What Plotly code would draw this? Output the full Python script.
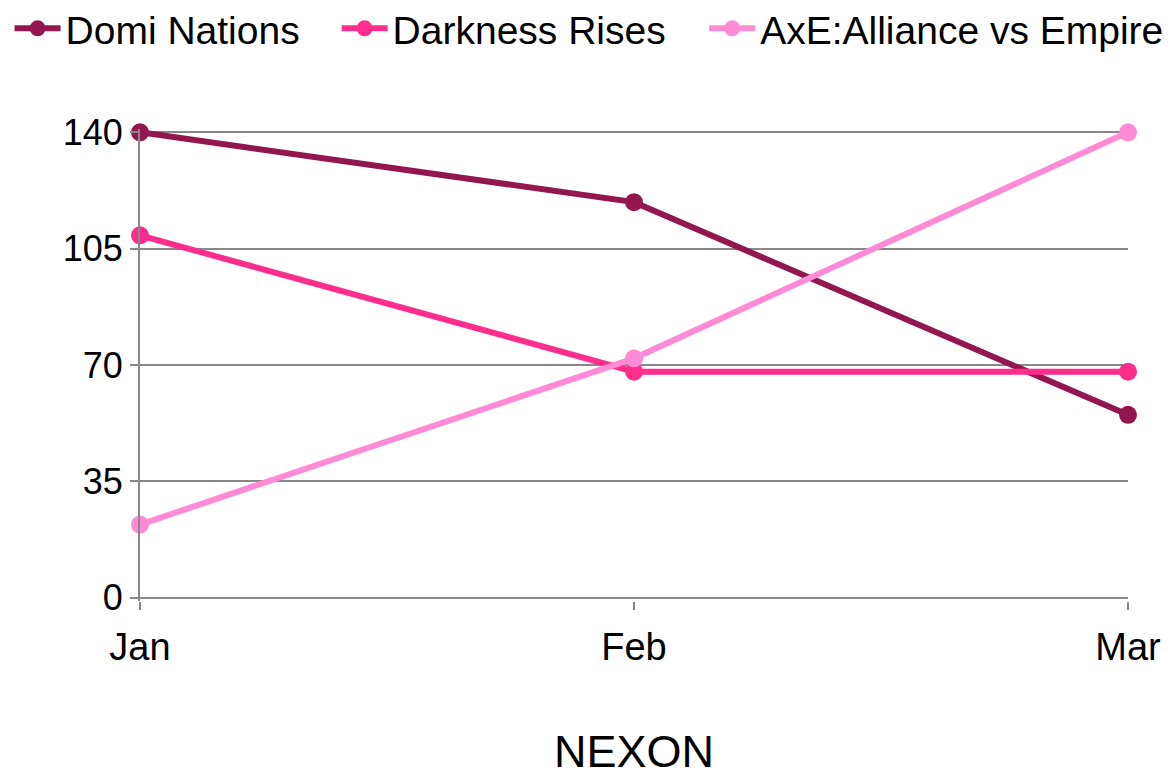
import plotly.graph_objects as go

months = ["Jan", "Feb", "Mar"]
domi_nations = [140, 119, 55]
darkness_rises = [109, 68, 68]
axe_alliance = [22, 72, 140]
y_ticks = [0, 35, 70, 105, 140]

series = [
    ("Domi Nations", domi_nations, "#93174F", "legend", -0.132),
    ("Darkness Rises", darkness_rises, "#FF2D8B", "legend2", 0.199),
    ("AxE:Alliance vs Empire", axe_alliance, "#FF8AD6", "legend3", 0.571),
]

fig = go.Figure()
for name, vals, color, leg, _ in series:
    fig.add_trace(go.Scatter(
        x=months, y=vals, name=name, mode="lines+markers",
        line=dict(color=color, width=6),
        marker=dict(color=color, size=18),
        cliponaxis=False, legend=leg,
    ))

legend_style = dict(orientation="h", xanchor="left", y=1.213, yanchor="middle",
                    font=dict(size=39), itemwidth=46, bgcolor="rgba(0,0,0,0)")
layout_legends = {}
for _, _, _, leg, lx in series:
    layout_legends[leg] = dict(legend_style, x=lx)

fig.update_layout(
    width=1175, height=777,
    margin=dict(l=140, r=47, t=129, b=176, autoexpand=False),
    paper_bgcolor="white", plot_bgcolor="white",
    font=dict(family="Liberation Sans, Arial, sans-serif", color="black"),
    showlegend=True,
    **layout_legends,
)
fig.update_xaxes(
    type="category", range=[0, 2], showgrid=False, showline=False, zeroline=False,
    ticks="outside", ticklen=8, tickwidth=2, tickcolor="#888888",
    tickfont=dict(size=38), ticklabelstandoff=4,
    title=dict(text="NEXON", font=dict(size=45), standoff=91),
)
fig.update_yaxes(
    range=[-1, 141], tickvals=y_ticks, showgrid=True, gridcolor="#888888", gridwidth=2,
    showline=True, linecolor="#888888", linewidth=2, zeroline=False,
    ticks="outside", ticklen=8, tickwidth=2, tickcolor="#888888",
    tickfont=dict(size=36),
)

fig.write_html("out.html")
